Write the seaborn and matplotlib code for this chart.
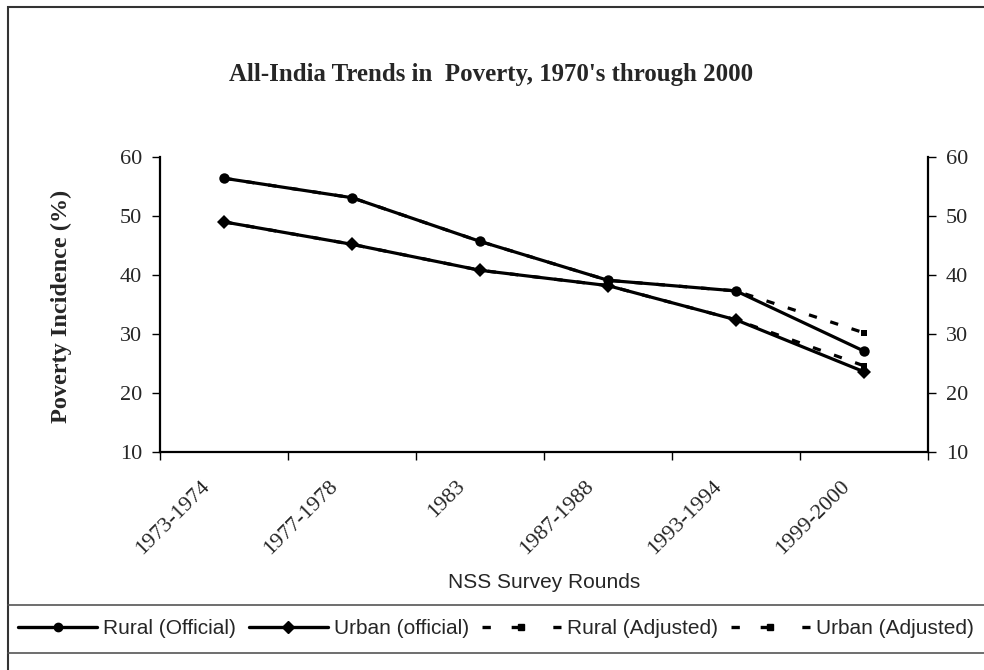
import numpy as np
import pandas as pd
import seaborn as sns
import matplotlib.pyplot as plt
import matplotlib.transforms as mtransforms
from matplotlib.lines import Line2D
from matplotlib.patches import Rectangle

# data
rounds = ["1973-1974", "1977-1978", "1983", "1987-1988", "1993-1994", "1999-2000"]
rural_official = [56.4, 53.1, 45.7, 39.1, 37.3, 27.1]
urban_official = [49.0, 45.2, 40.8, 38.2, 32.4, 23.6]
rural_adjusted = [56.4, 53.1, 45.7, 39.1, 37.3, 30.2]
urban_adjusted = [49.0, 45.2, 40.8, 38.2, 32.4, 24.6]
series_names = ["Rural (Official)", "Urban (official)", "Rural (Adjusted)", "Urban (Adjusted)"]

sns.set_style("ticks")
plt.rcParams['font.family'] = ['Liberation Serif', 'DejaVu Serif']
sans = ["Liberation Sans", "DejaVu Sans"]

W, H = 984, 670
fig = plt.figure(figsize=(W / 100, H / 100), dpi=100)

def fx(px):
    return px / W

def fy(py):
    return 1 - py / H

# axes box: x 160..928, y 157..452 (pixels)
ax = fig.add_axes([fx(160), fy(452), fx(928) - fx(160), fy(157) - fy(452)])

rows = []
for name, vals in zip(series_names, [rural_official, urban_official, rural_adjusted, urban_adjusted]):
    for i, v in enumerate(vals):
        rows.append({"pos": i, "round": rounds[i], "value": v, "series": name})
df = pd.DataFrame(rows)

# draw adjusted first so official sits on top
plot_order = [series_names[2], series_names[3], series_names[0], series_names[1]]
markers = {series_names[0]: "o", series_names[1]: "D",
           series_names[2]: "s", series_names[3]: "s"}
dashes = {series_names[0]: "", series_names[1]: "",
          series_names[2]: (2.6, 4.4), series_names[3]: (2.6, 4.4)}
palette = {n: "black" for n in series_names}

sns.lineplot(data=df, x="pos", y="value", hue="series", style="series",
             hue_order=plot_order, style_order=plot_order,
             markers=markers, dashes=dashes, palette=palette,
             linewidth=2.3, markersize=7.5, markeredgewidth=0,
             legend=False, ax=ax)

# shrink the adjusted squares a bit
for line in ax.get_lines():
    if line.get_marker() == "s":
        line.set_markersize(5)

ax.set_xlim(-0.5, len(rounds) - 0.5)
ax.set_ylim(10, 60)
ax.set_yticks([10, 20, 30, 40, 50, 60])
ax.set_xticks(np.arange(-0.5, len(rounds), 1.0))
ax.set_xticklabels([])
ax.set_xticks(np.arange(len(rounds)), minor=True)
ax.set_xticklabels(rounds, minor=True, rotation=45, ha="right", va="top",
                   rotation_mode="anchor", fontsize=16)
ax.tick_params(axis="x", which="minor", length=0, pad=18)
ax.tick_params(axis="x", which="major", length=6, width=1, direction="out", color="black")
ax.tick_params(axis="y", length=6, width=1, direction="out", labelsize=16, color="black", pad=7)
shift = mtransforms.ScaledTranslation(-24 / 100, 0, fig.dpi_scale_trans)
for lab in ax.xaxis.get_minorticklabels():
    lab.set_transform(lab.get_transform() + shift)
ax.set_xlabel("")
ax.set_ylabel("")

ax2 = ax.twinx()
ax2.set_ylim(10, 60)
ax2.set_yticks([10, 20, 30, 40, 50, 60])
ax2.tick_params(axis="y", length=6, width=1, direction="out", labelsize=16, color="black", pad=7)

for a in (ax, ax2):
    a.spines["top"].set_visible(False)
    for s in ("left", "right", "bottom"):
        a.spines[s].set_linewidth(1.6)
        a.spines[s].set_color("black")
ax.spines["right"].set_visible(False)
ax2.spines["left"].set_visible(False)
ax2.spines["bottom"].set_visible(False)

fig.text(fx(491), fy(75), "All-India Trends in  Poverty, 1970's through 2000",
         ha="center", va="center", fontsize=17.9, fontweight="bold")
fig.text(fx(61), fy(306), "Poverty Incidence (%)", rotation=90,
         ha="center", va="center", fontsize=17.5, fontweight="bold")
fig.text(fx(544), fy(583), "NSS Survey Rounds", ha="center", va="center",
         fontsize=15, family=sans)

# outer frame and legend rules
fig.patches.append(Rectangle((fx(8), fy(700)), 1.2, fy(7) - fy(700), transform=fig.transFigure,
                             fill=False, edgecolor="#333333", linewidth=1.5))
for yy in (605, 653):
    fig.add_artist(Line2D([fx(8), 1], [fy(yy), fy(yy)], transform=fig.transFigure,
                          color="#555555", linewidth=1.2))

legend_dash = (0, (2.5, 6.25, 2.5, 10))
handles = [
    Line2D([], [], color="black", lw=2.4, marker="o", markersize=6),
    Line2D([], [], color="black", lw=2.4, marker="D", markersize=6),
    Line2D([], [], color="black", lw=2.4, ls=legend_dash, marker="s", markersize=4),
    Line2D([], [], color="black", lw=2.4, ls=legend_dash, marker="s", markersize=4),
]
leg = fig.legend(handles, series_names, loc="center", bbox_to_anchor=(fx(496), fy(629)),
                 ncol=4, frameon=False, handlelength=3.8, handletextpad=0.3,
                 columnspacing=0.6, borderpad=0,
                 prop={"family": sans, "size": 15})

fig.savefig("out.png", dpi=100)
